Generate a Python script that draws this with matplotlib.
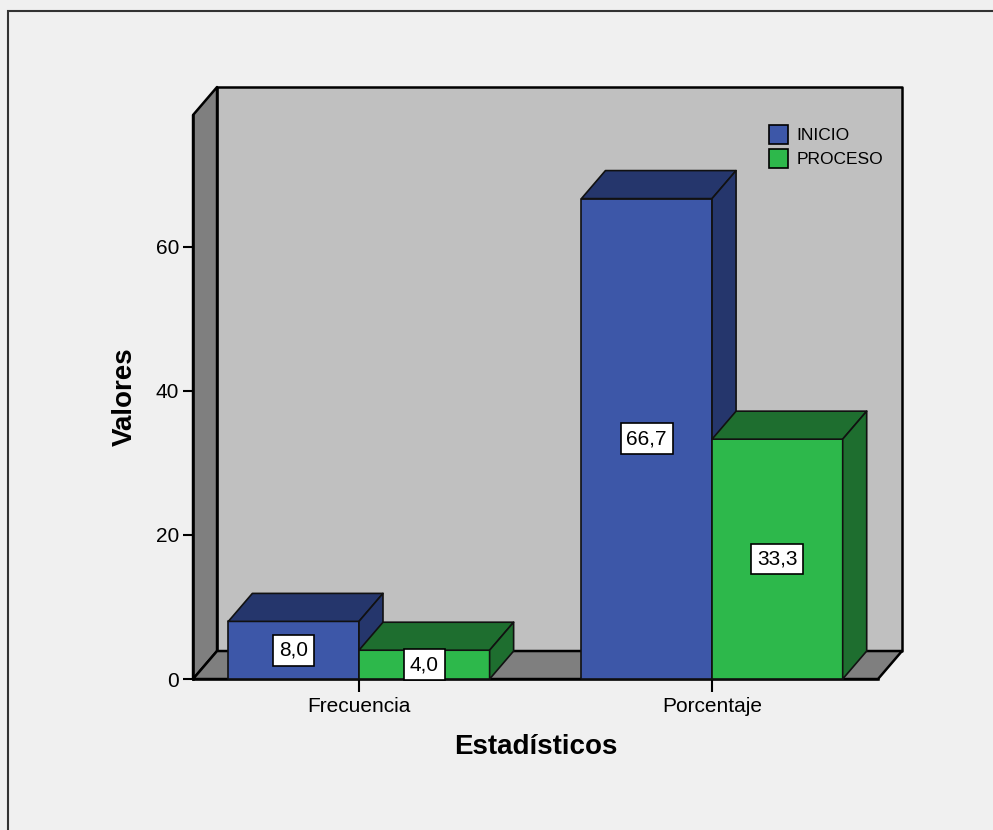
import matplotlib
matplotlib.use("Agg")
import matplotlib.pyplot as plt
from matplotlib.patches import Polygon, Rectangle, Patch

# Datos
categories = ["Frecuencia", "Porcentaje"]
series_names = ["INICIO", "PROCESO"]
inicio = [8.0, 66.7]
proceso = [4.0, 33.3]
y_ticks = [0, 20, 40, 60]

front_colors = ["#3d57a8", "#2db84b"]
shade_colors = ["#25366c", "#1e6e2f"]

plt.rcParams["font.family"] = ["Liberation Sans", "DejaVu Sans"]

fig = plt.figure(figsize=(9.93, 8.30), dpi=100, facecolor="#f0f0f0")
ax = fig.add_axes([0.1944, 0.1819, 0.6898, 0.6795])
x0, x1 = -0.47, 1.47
ymax = 78.3
ax.set_xlim(x0, x1)
ax.set_ylim(0, ymax)
ax.patch.set_visible(False)

# depth of the 3D effect: 24 px right, 28 px up, expressed in data units
inv = ax.transData.inverted()
p0 = inv.transform(ax.transData.transform((0, 0)))
p1 = inv.transform(ax.transData.transform((0, 0)) + [24, 28])
dx, dy = p1 - p0

edge = dict(ec="black", lw=1.8, clip_on=False, joinstyle="round")

# walls and floor
ax.add_patch(Polygon([(x0 + dx, dy), (x1 + dx, dy), (x1 + dx, ymax + dy), (x0 + dx, ymax + dy)],
                     fc="#c0c0c0", zorder=0, **edge))
ax.add_patch(Polygon([(x0, 0), (x0, ymax), (x0 + dx, ymax + dy), (x0 + dx, dy)],
                     fc="#7f7f7f", zorder=0.5, **edge))
ax.add_patch(Polygon([(x0, 0), (x1, 0), (x1 + dx, dy), (x0 + dx, dy)],
                     fc="#7f7f7f", zorder=0.5, **edge))

# bars
width = 0.37
bar_edge = dict(ec="#111111", lw=1.2, clip_on=False, joinstyle="round")
z = 3
for gi, cat in enumerate(categories):
    for si, values in enumerate([inicio, proceso]):
        h = values[gi]
        left = gi + (si - 1) * width
        ax.add_patch(Rectangle((left, 0), width, h, fc=front_colors[si], zorder=z, **bar_edge))
        ax.add_patch(Polygon([(left, h), (left + width, h), (left + width + dx, h + dy), (left + dx, h + dy)],
                             fc=shade_colors[si], zorder=z, **bar_edge))
        ax.add_patch(Polygon([(left + width, 0), (left + width, h), (left + width + dx, h + dy),
                              (left + width + dx, dy)],
                             fc=shade_colors[si], zorder=z, **bar_edge))
        ax.text(left + width / 2, h / 2, f"{h:.1f}".replace(".", ","), ha="center", va="center",
                fontsize=15, zorder=20,
                bbox=dict(boxstyle="square,pad=0.28", fc="white", ec="black", lw=1.2))
        z += 1

for side in ["top", "right"]:
    ax.spines[side].set_visible(False)
for side in ["left", "bottom"]:
    ax.spines[side].set_linewidth(1.8)

ax.set_yticks(y_ticks)
ax.set_xticks(range(len(categories)), categories)
ax.tick_params(axis="y", length=7, width=1.5, pad=3, labelsize=15)
ax.tick_params(axis="x", length=9, width=1.5, pad=4, labelsize=15)

ax.set_xlabel("Estadísticos", fontsize=20, fontweight="bold", labelpad=13)
ax.set_ylabel("Valores", fontsize=20, fontweight="bold", labelpad=13)

handles = [Patch(fc=c, ec="black", lw=1.2) for c in front_colors]
ax.legend(handles, series_names, loc="upper left", bbox_to_anchor=(769 / 993, 1 - 125 / 830),
          bbox_transform=fig.transFigure, frameon=False, fontsize=12.5, handlelength=1.1,
          handleheight=1.3, handletextpad=0.5, labelspacing=0.3, borderpad=0, borderaxespad=0)

# outer frame
fig.add_artist(Rectangle((8 / 993, -0.1), 1.2, 1 - 11 / 830 + 0.1, transform=fig.transFigure,
                         fill=False, ec="#333333", lw=1.5))

fig.savefig("out.png", dpi=100, facecolor=fig.get_facecolor())
